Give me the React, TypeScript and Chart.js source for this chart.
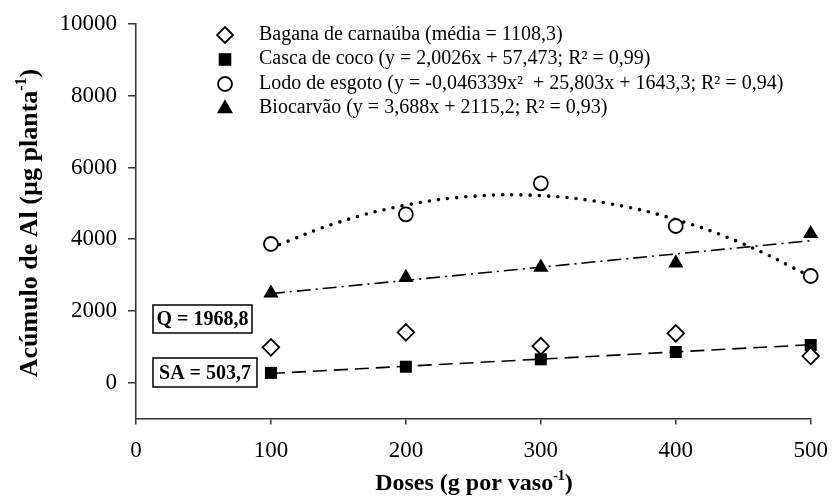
import React, { useEffect, useRef } from "react";
import { Chart, registerables } from "chart.js";

Chart.register(...registerables);

const FONT = "'Liberation Serif', 'Times New Roman', serif";

// Doses (g por vaso-1)
const doses = [100, 200, 300, 400, 500];
// Observed points
const bagana = [987, 1405, 1020, 1377, 744];
const casca = [275, 446, 652, 856, 1051];
const lodo = [3867, 4695, 5559, 4369, 2975];
const biocarvao = [2495, 2933, 3215, 3337, 4154];

// Trend lines
const linearTrendX = [100, 500];
const cascaTrend = [258, 1059];
const bioTrend = [2484, 3959];
const lodoTrendX = [100, 150, 200, 250, 300, 350, 400, 450, 500];
const lodoTrend = [3760, 4471, 4950, 5198, 5214, 4998, 4550, 3871, 2960];

// Axis ticks
const xTickValues = [0, 100, 200, 300, 400, 500];
const yTickValues = [0, 2000, 4000, 6000, 8000, 10000];

const legendLabels = [
  "Bagana de carnaúba (média = 1108,3)",
  "Casca de coco (y = 2,0026x + 57,473; R² = 0,99)",
  "Lodo de esgoto (y = -0,046339x²  + 25,803x + 1643,3; R² = 0,94)",
  "Biocarvão (y = 3,688x + 2115,2; R² = 0,93)",
];
const legendMarkers = ["diamond", "square", "circle", "triangle"];
const boxLabels = ["Q = 1968,8", "SA = 503,7"];
const yTitleParts = ["Acúmulo de Al (µg planta", "-1", ")"];
const xTitleParts = ["Doses (g por vaso", "-1", ")"];

const toXY = (xs: number[], ys: number[]) => xs.map((x, i) => ({ x, y: ys[i] }));

function drawMarker(ctx: CanvasRenderingContext2D, type: string, x: number, y: number) {
  ctx.save();
  ctx.lineWidth = 1.8;
  ctx.strokeStyle = "#000";
  ctx.fillStyle = "#000";
  ctx.beginPath();
  if (type === "diamond") {
    const r = 8;
    ctx.moveTo(x, y - r);
    ctx.lineTo(x + r, y);
    ctx.lineTo(x, y + r);
    ctx.lineTo(x - r, y);
    ctx.closePath();
    ctx.fillStyle = "#fff";
    ctx.fill();
    ctx.stroke();
  } else if (type === "square") {
    const h = 6.3;
    ctx.rect(x - h, y - h, 2 * h, 2 * h);
    ctx.fill();
  } else if (type === "circle") {
    ctx.arc(x, y, 7, 0, Math.PI * 2);
    ctx.fillStyle = "#fff";
    ctx.fill();
    ctx.stroke();
  } else {
    const r = 9.3;
    ctx.moveTo(x, y - r);
    ctx.lineTo(x + r * Math.sin((2 * Math.PI) / 3), y + r * 0.5);
    ctx.lineTo(x - r * Math.sin((2 * Math.PI) / 3), y + r * 0.5);
    ctx.closePath();
    ctx.fill();
  }
  ctx.restore();
}

function drawSupText(
  ctx: CanvasRenderingContext2D,
  parts: string[],
  cx: number,
  cy: number,
  size: number,
  rotate: boolean
) {
  ctx.save();
  ctx.translate(cx, cy);
  if (rotate) ctx.rotate(-Math.PI / 2);
  const mainFont = `bold ${size}px ${FONT}`;
  const supFont = `bold ${Math.round(size * 0.6)}px ${FONT}`;
  ctx.font = mainFont;
  const w0 = ctx.measureText(parts[0]).width;
  const w2 = ctx.measureText(parts[2]).width;
  ctx.font = supFont;
  const w1 = ctx.measureText(parts[1]).width;
  const total = w0 + w1 + w2;
  let x = -total / 2;
  const baseline = size * 0.35;
  ctx.fillStyle = "#000";
  ctx.textBaseline = "alphabetic";
  ctx.textAlign = "left";
  ctx.font = mainFont;
  ctx.fillText(parts[0], x, baseline);
  x += w0;
  ctx.font = supFont;
  ctx.fillText(parts[1], x, baseline - size * 0.42);
  x += w1;
  ctx.font = mainFont;
  ctx.fillText(parts[2], x, baseline);
  ctx.restore();
}

const overlayPlugin = {
  id: "overlay",
  afterDraw(chart: any) {
    const ctx: CanvasRenderingContext2D = chart.ctx;
    // legend
    ctx.save();
    ctx.font = `20px ${FONT}`;
    ctx.fillStyle = "#000";
    ctx.textBaseline = "alphabetic";
    ctx.textAlign = "left";
    legendLabels.forEach((label, i) => {
      const baseY = 39.5 + i * 24.5;
      drawMarker(ctx, legendMarkers[i], 225, baseY - 4.5);
      ctx.fillText(label, 259, baseY);
    });
    ctx.restore();

    // boxes
    const boxes = [
      { x: 153, y: 305, w: 99, h: 28 },
      { x: 153, y: 358, w: 104, h: 29 },
    ];
    ctx.save();
    boxes.forEach((b, i) => {
      ctx.fillStyle = "#fff";
      ctx.fillRect(b.x, b.y, b.w, b.h);
      ctx.lineWidth = 1.5;
      ctx.strokeStyle = "#000";
      ctx.strokeRect(b.x, b.y, b.w, b.h);
      ctx.font = `bold 20px ${FONT}`;
      ctx.fillStyle = "#000";
      ctx.textAlign = "center";
      ctx.textBaseline = "middle";
      ctx.fillText(boxLabels[i], b.x + b.w / 2, b.y + b.h / 2 + 1);
    });
    ctx.restore();

    // axis titles
    drawSupText(ctx, yTitleParts, 28, 223, 26, true);
    drawSupText(ctx, xTitleParts, 474, 481.6, 24, false);
  },
};

export default function App() {
  const canvasRef = useRef<HTMLCanvasElement | null>(null);

  useEffect(() => {
    const canvas = canvasRef.current;
    if (!canvas) return;
    const pointBase = { showLine: false, order: 1, clip: false };
    const chart = new Chart(canvas, {
      type: "scatter",
      data: {
        datasets: [
          {
            ...pointBase,
            label: "Bagana de carnaúba",
            data: toXY(doses, bagana),
            pointStyle: "rectRot",
            pointRadius: 8.3,
            pointBackgroundColor: "#fff",
            pointBorderColor: "#000",
            pointBorderWidth: 1.8,
          },
          {
            ...pointBase,
            label: "Casca de coco",
            data: toXY(doses, casca),
            pointStyle: "rect",
            pointRadius: 8.5,
            pointBackgroundColor: "#000",
            pointBorderColor: "#000",
            pointBorderWidth: 0,
          },
          {
            ...pointBase,
            label: "Lodo de esgoto",
            data: toXY(doses, lodo),
            pointStyle: "circle",
            pointRadius: 7,
            pointBackgroundColor: "#fff",
            pointBorderColor: "#000",
            pointBorderWidth: 1.8,
          },
          {
            ...pointBase,
            label: "Biocarvão",
            data: toXY(doses, biocarvao),
            pointStyle: "triangle",
            pointRadius: 8.8,
            pointBackgroundColor: "#000",
            pointBorderColor: "#000",
            pointBorderWidth: 0,
          },
          {
            label: "Casca trend",
            data: toXY(linearTrendX, cascaTrend),
            showLine: true,
            pointRadius: 0,
            borderColor: "#000",
            borderWidth: 1.6,
            borderDash: [14, 7],
            order: 2,
            clip: false,
          },
          {
            label: "Bio trend",
            data: toXY(linearTrendX, bioTrend),
            showLine: true,
            pointRadius: 0,
            borderColor: "#000",
            borderWidth: 1.6,
            borderDash: [14, 5, 2, 5],
            order: 2,
            clip: false,
          },
          {
            label: "Lodo trend",
            data: toXY(lodoTrendX, lodoTrend),
            showLine: true,
            pointRadius: 0,
            borderColor: "#000",
            borderWidth: 3.6,
            borderDash: [0, 9.2],
            borderCapStyle: "round",
            tension: 0.4,
            order: 2,
            clip: false,
          },
        ],
      },
      options: {
        animation: false,
        responsive: false,
        layout: { padding: { top: 24, right: 21.3, left: 0, bottom: 0 } },
        plugins: {
          legend: { display: false },
          tooltip: { enabled: false },
        },
        scales: {
          x: {
            type: "linear",
            min: 0,
            max: 500,
            afterBuildTicks: (scale: any) => {
              scale.ticks = xTickValues.map((v) => ({ value: v }));
            },
            ticks: {
              color: "#000",
              font: { family: FONT, size: 23 },
              padding: 13,
              callback: (v: any) => String(v),
            },
            grid: {
              display: true,
              drawOnChartArea: false,
              drawTicks: true,
              tickLength: 6,
              color: "#333",
              lineWidth: 1.5,
            },
            border: { display: true, color: "#333", width: 1.5 },
            afterFit: (scale: any) => {
              scale.height = 497 - 418.6;
              scale.paddingLeft = 0;
              scale.paddingRight = 0;
            },
          },
          y: {
            type: "linear",
            min: -1000,
            max: 10000,
            afterBuildTicks: (scale: any) => {
              scale.ticks = yTickValues.map((v) => ({ value: v }));
            },
            ticks: {
              color: "#000",
              font: { family: FONT, size: 23 },
              padding: 11,
              callback: (v: any) => String(v),
            },
            grid: {
              display: true,
              drawOnChartArea: false,
              drawTicks: true,
              tickLength: 8,
              color: "#333",
              lineWidth: 1.5,
            },
            border: { display: true, color: "#333", width: 1.5 },
            afterFit: (scale: any) => {
              scale.width = 136;
              scale.paddingTop = 0;
              scale.paddingBottom = 0;
            },
          },
        },
      },
      plugins: [overlayPlugin],
    } as any);
    return () => chart.destroy();
  }, []);

  return (
    <div style={{ position: "fixed", left: 0, top: 0, width: 832, height: 497, background: "#fff" }}>
      <canvas ref={canvasRef} width={832} height={497} style={{ display: "block" }} />
    </div>
  );
}
